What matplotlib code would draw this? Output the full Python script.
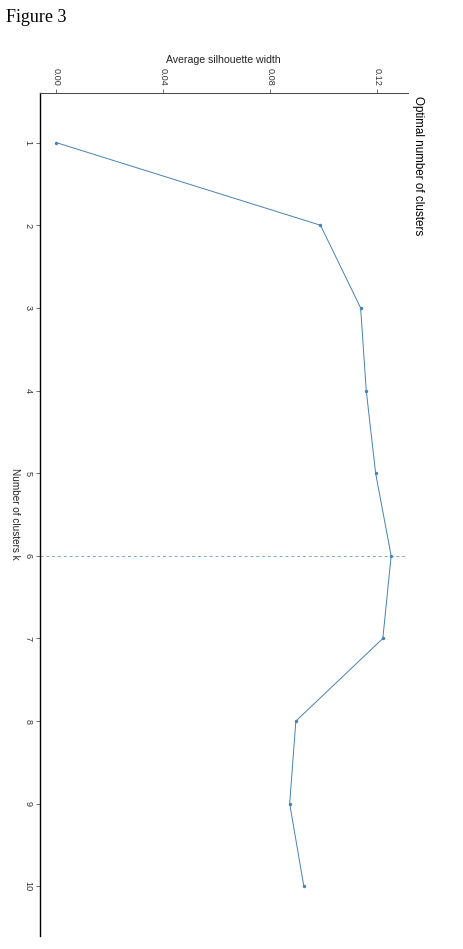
import matplotlib
matplotlib.use("Agg")
import matplotlib.pyplot as plt
import numpy as np

k_values = [1, 2, 3, 4, 5, 6, 7, 8, 9, 10]
silhouette = [0.0, 0.0987, 0.1137, 0.1158, 0.1193, 0.1251, 0.1220, 0.0895, 0.0872, 0.0925]
sil_ticks = [0.00, 0.04, 0.08, 0.12]
sil_tick_labels = ["0.00", "0.04", "0.08", "0.12"]
optimal_k = 6

W, H = 463, 949
fig = plt.figure(figsize=(W / 100, H / 100), dpi=100)
plt.rcParams['font.family'] = ['Liberation Sans', 'DejaVu Sans']

left, right, top, bottom = 39.5, 408, 93, 936
ax = fig.add_axes([left / W, 1 - bottom / H, (right - left) / W, (bottom - top) / H])

line_col = "#4682B4"
ax.plot(silhouette, k_values, color=line_col, lw=0.7, zorder=3)
ax.scatter(silhouette, k_values, s=6, color=line_col, zorder=4, linewidths=0)
ax.axhline(optimal_k, color=line_col, lw=0.7, ls=(0, (3, 3)), alpha=0.7, zorder=2)

ax.set_xlim(-0.00626, 0.1314)
ax.set_ylim(10.6, 0.4)

ax.xaxis.tick_top()
ax.set_xticks(sil_ticks)
ax.set_xticklabels(sil_tick_labels, rotation=-90, fontsize=6.6, color="#333333")
ax.set_yticks(k_values)
ax.set_yticklabels([str(k) for k in k_values], rotation=-90, fontsize=6.6,
                   color="#333333", va="center")
ax.tick_params(axis="both", length=3, width=0.6, color="#555555", pad=2)

for s in ["right", "bottom"]:
    ax.spines[s].set_visible(False)
ax.spines["left"].set_color("black")
ax.spines["left"].set_linewidth(1.0)
ax.spines["top"].set_color("#444444")
ax.spines["top"].set_linewidth(0.7)

fig.text(223 / W, 1 - 60 / H, "Average silhouette width", ha="center", va="center",
         fontsize=7.6, color="#222222")
fig.text(15 / W, 1 - 514 / H, "Number of clusters k", ha="center", va="center",
         fontsize=7.2, rotation=-90, color="#222222")
fig.text(418 / W, 1 - 166 / H, "Optimal number of clusters", ha="center", va="center",
         fontsize=8.4, rotation=-90, color="black")
fig.text(6 / W, 1 - 18 / H, "Figure 3", ha="left", va="center",
         fontsize=13, family=["Liberation Serif", "DejaVu Serif"], color="black")

fig.savefig("out.png", dpi=100)
